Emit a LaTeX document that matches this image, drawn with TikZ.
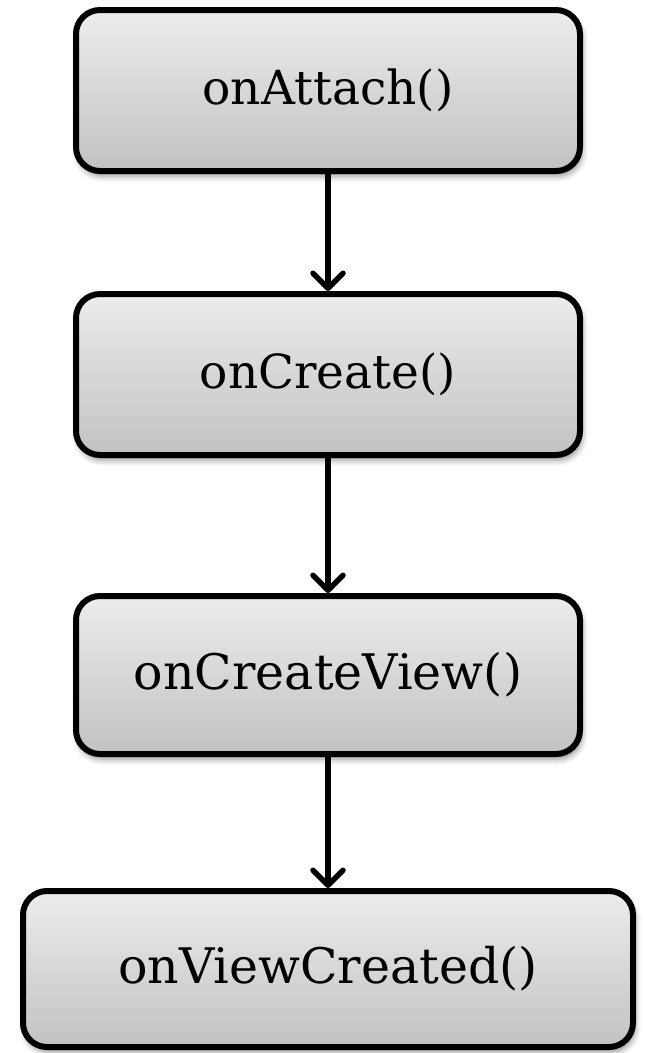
\documentclass[tikz,border=0pt]{standalone}
\usepackage{fontspec}
\setmainfont{DejaVu Serif}
\usetikzlibrary{arrows.meta,shadows.blur}
\definecolor{boxtop}{RGB}{236,236,236}
\definecolor{boxbot}{RGB}{194,194,194}
\tikzset{
  stagebox/.style={draw=black, line width=6pt, rounded corners=24pt,
    top color=boxtop, bottom color=boxbot,
    blur shadow={shadow xshift=2pt, shadow yshift=-5pt, shadow blur radius=6pt, shadow opacity=45},
    minimum width=504pt, inner sep=0pt,
    font=\fontsize{47}{56}\selectfont},
  bigtext/.style={font=\fontsize{49}{58}\selectfont},
  flow/.style={line width=5.5pt, -{Straight Barb[length=15pt,width=30pt,round]}}
}
\begin{document}
\begin{tikzpicture}[x=1pt,y=-1pt]
\useasboundingbox (0,0) rectangle (645,1053);
\node[stagebox, minimum height=161pt] (a) at (328,90.5) {onAttach()};
\node[stagebox, minimum height=161pt] (b) at (328,374.5) {onCreate()};
\node[stagebox, bigtext, minimum height=158pt] (c) at (328,675) {onCreateView()};
\node[stagebox, bigtext, minimum height=156pt, minimum width=610pt] (d) at (328,969) {onViewCreated()};
\draw[flow] (a.south) -- (b.north);
\draw[flow] (b.south) -- (c.north);
\draw[flow] (c.south) -- (d.north);
\end{tikzpicture}
\end{document}
